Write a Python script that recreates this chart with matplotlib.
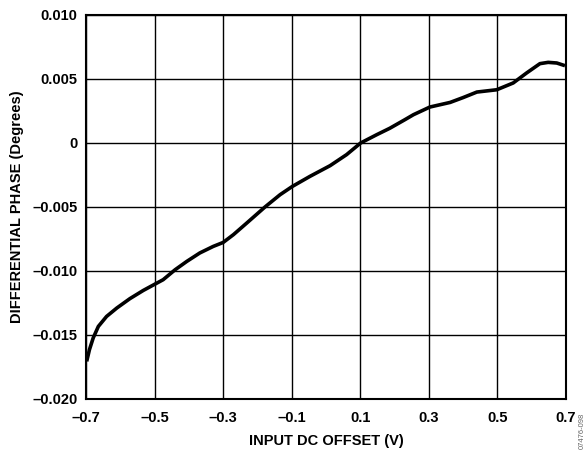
import matplotlib
matplotlib.use("Agg")
import matplotlib.pyplot as plt

# input dc offset (V) and differential phase (degrees)
offset = [-0.698, -0.690, -0.679, -0.664, -0.640, -0.610, -0.572, -0.533, -0.502,
          -0.475, -0.440, -0.406, -0.368, -0.329, -0.300, -0.270, -0.231, -0.178,
          -0.134, -0.098, -0.047, 0.012, 0.060, 0.101, 0.148, 0.186, 0.230, 0.255,
          0.303, 0.362, 0.400, 0.440, 0.498, 0.546, 0.585, 0.624, 0.648, 0.673, 0.697]
phase = [-0.01706, -0.01615, -0.01523, -0.01433, -0.01355, -0.01289, -0.01216, -0.01152,
         -0.01107, -0.01068, -0.00990, -0.00925, -0.00859, -0.00808, -0.00777, -0.00716,
         -0.00625, -0.00500, -0.00404, -0.00339, -0.00261, -0.00177, -0.00091, 0.00000,
         0.00065, 0.00115, 0.00182, 0.00221, 0.00281, 0.00317, 0.00355, 0.00398,
         0.00416, 0.00469, 0.00547, 0.00620, 0.00630, 0.00625, 0.00604]

xticks = [-0.7, -0.5, -0.3, -0.1, 0.1, 0.3, 0.5, 0.7]
xticklabels = ["\u20130.7", "\u20130.5", "\u20130.3", "\u20130.1", "0.1", "0.3", "0.5", "0.7"]
yticks = [-0.020, -0.015, -0.010, -0.005, 0, 0.005, 0.010]
yticklabels = ["\u20130.020", "\u20130.015", "\u20130.010", "\u20130.005", "0", "0.005", "0.010"]

plt.rcParams['font.family'] = ['Liberation Sans', 'DejaVu Sans']
plt.rcParams['font.weight'] = 'bold'

fig = plt.figure(figsize=(5.88, 4.51), dpi=100)
ax = fig.add_axes([86 / 588, 1 - 399 / 451, 480 / 588, 384 / 451])

ax.plot(offset, phase, color='black', lw=2.6, solid_joinstyle='round',
        solid_capstyle='butt', zorder=3)

ax.set_xlim(-0.7, 0.7)
ax.set_ylim(-0.020, 0.010)
ax.set_xticks(xticks)
ax.set_xticklabels(xticklabels)
ax.set_yticks(yticks)
ax.set_yticklabels(yticklabels)
ax.tick_params(axis='x', length=0, labelsize=10.5, pad=9)
ax.tick_params(axis='y', length=0, labelsize=10.5, pad=6)
for lab in ax.get_xticklabels() + ax.get_yticklabels():
    lab.set_fontweight('bold')
ax.grid(True, color='black', lw=1.0)
for s in ax.spines.values():
    s.set_linewidth(1.5)

ax.set_xlabel("INPUT DC OFFSET (V)", fontsize=10.5, fontweight='bold', labelpad=6)
ax.set_ylabel("DIFFERENTIAL PHASE (Degrees)", fontsize=10.5, fontweight='bold', labelpad=6)

fig.text(582 / 588, 2 / 451, "07476-098", rotation=90, fontsize=5.5, color='#666666',
         fontweight='normal', ha='center', va='bottom')

fig.savefig("out.png", dpi=100)
